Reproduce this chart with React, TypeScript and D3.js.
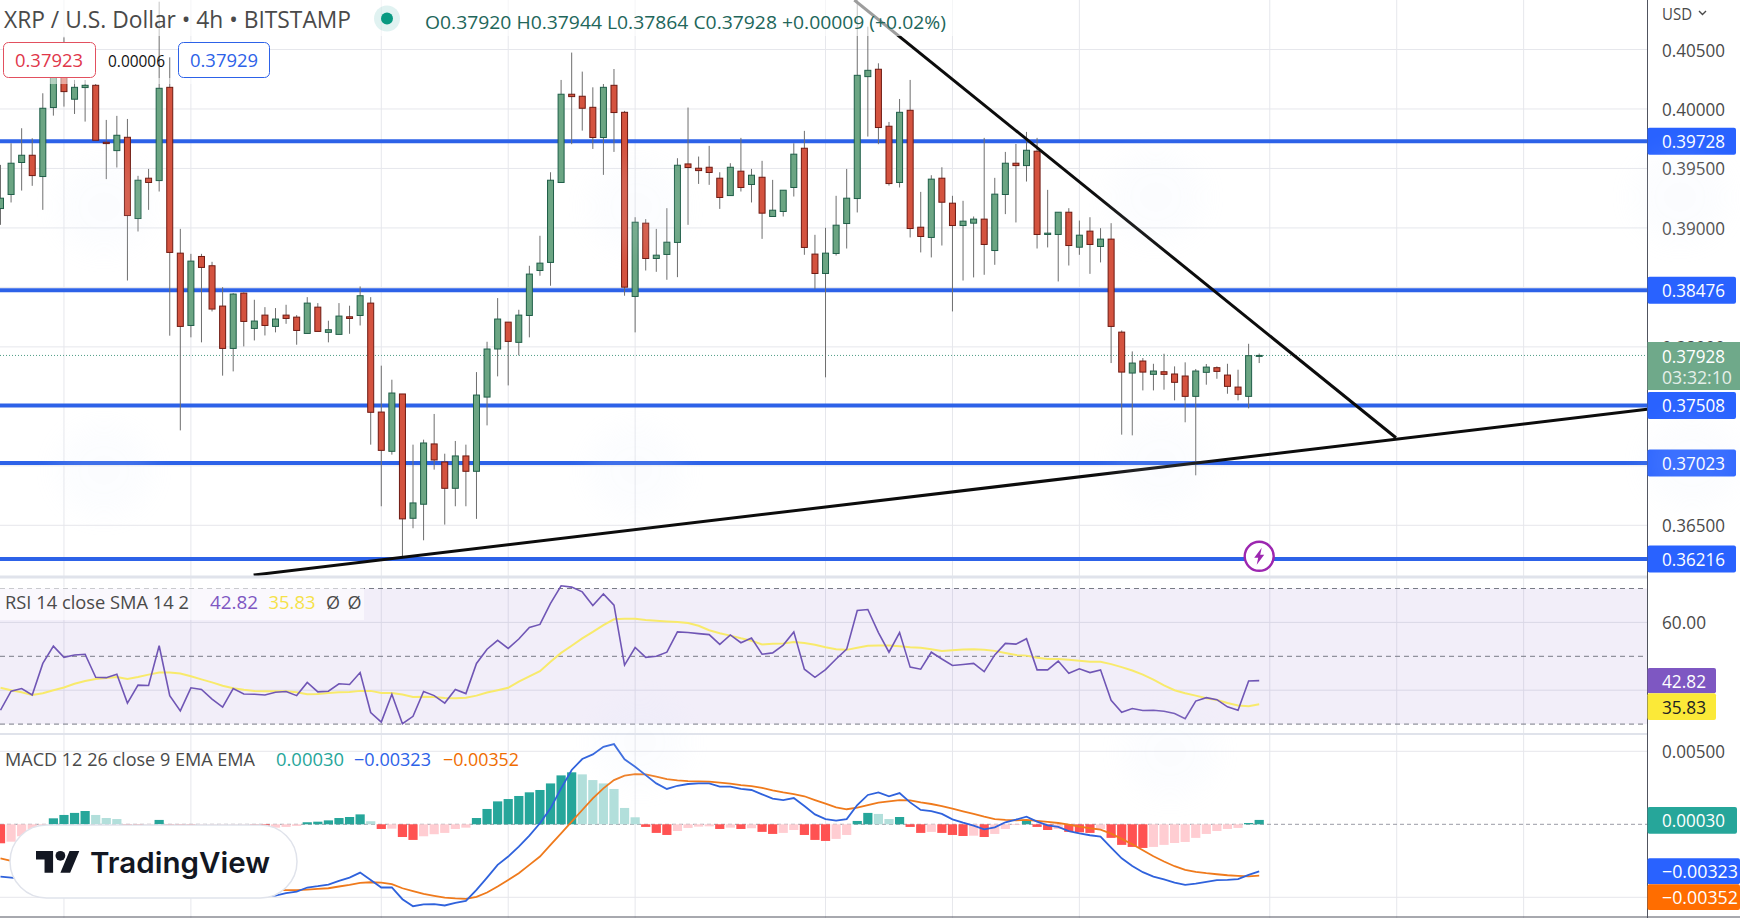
import * as d3 from "d3";

const WIDTH = 1740;
const HEIGHT = 918;
const AXIS_X = 1647.5;

const opens = [
  0.39163, 0.39281, 0.3955, 0.39611, 0.39432, 0.40012, 0.40278, 0.40082, 0.4018, 0.40199,
  0.3972, 0.3965, 0.39762, 0.39079, 0.39418, 0.39398, 0.40182, 0.38788, 0.3818, 0.3876,
  0.38682, 0.38343, 0.37987, 0.38452, 0.38155, 0.38267, 0.38172, 0.38267, 0.3825, 0.38113,
  0.38334, 0.38122, 0.38105, 0.38253, 0.38264, 0.38368, 0.37452, 0.37122, 0.37604, 0.36559,
  0.36677, 0.37184, 0.37032, 0.36811, 0.37083, 0.36954, 0.37578, 0.37982, 0.38208, 0.38038,
  0.38264, 0.38642, 0.3871, 0.39382, 0.40124, 0.40107, 0.40014, 0.3976, 0.40199, 0.39972,
  0.38424, 0.3904, 0.38743, 0.38777, 0.38878, 0.39538, 0.39502, 0.3951, 0.39418, 0.39272,
  0.39477, 0.39365, 0.39426, 0.39096, 0.39138, 0.3934, 0.3967, 0.3878, 0.38617, 0.38785,
  0.39037, 0.39247, 0.40272, 0.40334, 0.39855, 0.39382, 0.39989, 0.39006, 0.3892, 0.39418,
  0.39208, 0.3902, 0.3904, 0.39074, 0.3881, 0.39281, 0.39544, 0.39524, 0.39645, 0.38945,
  0.38945, 0.39132, 0.38838, 0.38973, 0.38844, 0.38906, 0.38124, 0.3778, 0.37881, 0.37769,
  0.37791, 0.37772, 0.37755, 0.37584, 0.37786, 0.37825, 0.37763, 0.37662, 0.37584, 0.3792,
];
const highs = [
  0.3953, 0.39712, 0.39838, 0.39754, 0.40132, 0.40384, 0.40602, 0.40244, 0.40244, 0.4021,
  0.39908, 0.39942, 0.39916, 0.39438, 0.39496, 0.40902, 0.40434, 0.38992, 0.38782, 0.38782,
  0.38715, 0.38502, 0.38452, 0.38458, 0.38396, 0.38334, 0.38326, 0.38354, 0.38267, 0.38418,
  0.38368, 0.3822, 0.38368, 0.38346, 0.38508, 0.38418, 0.37842, 0.37724, 0.37604, 0.37178,
  0.3722, 0.37436, 0.37102, 0.37209, 0.37178, 0.37788, 0.38043, 0.3841, 0.38208, 0.38312,
  0.38682, 0.38934, 0.39468, 0.40244, 0.40474, 0.40314, 0.40182, 0.4021, 0.40336, 0.39984,
  0.3909, 0.39074, 0.38992, 0.39166, 0.39586, 0.40012, 0.396, 0.3969, 0.39468, 0.39544,
  0.39757, 0.39496, 0.39564, 0.39404, 0.39317, 0.39712, 0.39816, 0.38942, 0.39001, 0.3927,
  0.39496, 0.40916, 0.40692, 0.40384, 0.39891, 0.40084, 0.40244, 0.39303, 0.39443, 0.3951,
  0.3927, 0.39228, 0.39096, 0.39757, 0.39421, 0.39639, 0.39706, 0.39807, 0.39757, 0.3932,
  0.39132, 0.39166, 0.39062, 0.3909, 0.38998, 0.3904, 0.38138, 0.37962, 0.37906, 0.37858,
  0.37942, 0.37836, 0.3787, 0.37814, 0.37856, 0.37836, 0.37858, 0.37808, 0.38026, 0.37944,
];
const lows = [
  0.39026, 0.39214, 0.39314, 0.39354, 0.39152, 0.39944, 0.4002, 0.39958, 0.39894, 0.39732,
  0.3941, 0.39508, 0.38558, 0.3897, 0.39152, 0.39306, 0.38094, 0.37298, 0.3808, 0.38038,
  0.38298, 0.37758, 0.37794, 0.38004, 0.38054, 0.38096, 0.38122, 0.38194, 0.38018, 0.38113,
  0.3813, 0.38038, 0.38105, 0.3811, 0.3818, 0.37178, 0.3666, 0.37094, 0.36226, 0.36475,
  0.36374, 0.36968, 0.36506, 0.3666, 0.3666, 0.36554, 0.3734, 0.37752, 0.37676, 0.37928,
  0.3808, 0.38598, 0.38514, 0.39382, 0.39704, 0.39818, 0.39664, 0.39446, 0.39639, 0.3843,
  0.38122, 0.38642, 0.38631, 0.38564, 0.38586, 0.39026, 0.3937, 0.39362, 0.3916, 0.39272,
  0.39306, 0.39214, 0.38908, 0.39096, 0.39096, 0.39264, 0.38774, 0.38486, 0.37744, 0.38768,
  0.38827, 0.3913, 0.39768, 0.39704, 0.39356, 0.3934, 0.3892, 0.38794, 0.38752, 0.38852,
  0.38298, 0.38558, 0.38584, 0.38606, 0.3869, 0.39116, 0.39046, 0.3939, 0.38827, 0.38836,
  0.3855, 0.38684, 0.38774, 0.38614, 0.3871, 0.37864, 0.37262, 0.37256, 0.37634, 0.37634,
  0.3764, 0.3755, 0.37366, 0.3692, 0.37682, 0.37732, 0.37606, 0.3755, 0.37483, 0.37864,
];
const closes = [
  0.3925, 0.39544, 0.39611, 0.3944, 0.40006, 0.40286, 0.40146, 0.40182, 0.40199, 0.39737,
  0.39709, 0.39779, 0.39104, 0.39401, 0.39382, 0.40174, 0.38794, 0.38172, 0.38721, 0.38668,
  0.38318, 0.37987, 0.38444, 0.38214, 0.38217, 0.3818, 0.38234, 0.38239, 0.38138, 0.38368,
  0.3813, 0.38144, 0.38259, 0.38239, 0.3843, 0.3745, 0.3713, 0.37612, 0.36554, 0.36688,
  0.37192, 0.37049, 0.36811, 0.37083, 0.36954, 0.37595, 0.37982, 0.38234, 0.38046, 0.38267,
  0.38612, 0.38704, 0.39401, 0.40124, 0.40104, 0.40006, 0.3976, 0.40182, 0.3997, 0.38502,
  0.39048, 0.38743, 0.38771, 0.3888, 0.39527, 0.39508, 0.39482, 0.39466, 0.39256, 0.3951,
  0.3934, 0.39443, 0.39124, 0.39149, 0.39317, 0.3962, 0.38836, 0.38617, 0.38788, 0.39023,
  0.3925, 0.40283, 0.40325, 0.39844, 0.39373, 0.39972, 0.38995, 0.38928, 0.3941, 0.39216,
  0.3902, 0.39057, 0.39074, 0.38861, 0.39284, 0.39544, 0.39524, 0.39653, 0.38945, 0.38956,
  0.39132, 0.38852, 0.38939, 0.38861, 0.38906, 0.38172, 0.37788, 0.37864, 0.37788, 0.37797,
  0.37769, 0.37702, 0.37584, 0.37797, 0.3783, 0.37794, 0.37668, 0.37601, 0.37926, 0.37928,
];

const rsi = [
  34.1, 39.7, 40.5, 38.6, 47.9, 53.0, 49.7, 50.4, 50.6, 43.8, 43.7, 44.7, 36.2, 41.5, 41.4,
  53.1, 38.4, 33.9, 40.7, 40.2, 37.4, 35.0, 40.5, 38.9, 38.8, 38.6, 39.4, 39.6, 38.4, 42.3,
  39.5, 39.7, 41.9, 41.7, 45.2, 33.4, 30.6, 38.8, 30.1, 32.3, 39.6, 38.4, 36.2, 40.2, 39.0,
  47.9, 52.1, 54.7, 52.3, 55.1, 58.5, 59.4, 65.6, 70.8, 70.4, 69.0, 65.0, 68.4, 65.1, 47.4,
  52.6, 49.7, 50.0, 51.2, 57.2, 57.0, 56.7, 56.4, 53.5, 56.3, 54.0, 55.4, 50.6, 51.0, 53.3,
  57.2, 46.2, 43.8, 46.1, 49.2, 52.1, 63.5, 63.8, 57.0, 51.2, 57.0, 46.8, 46.2, 51.2, 49.2,
  47.3, 47.6, 47.9, 45.5, 50.4, 53.8, 53.6, 55.2, 46.0, 46.0, 48.6, 45.0, 46.3, 45.2, 46.0,
  37.0, 33.5, 34.6, 34.0, 34.1, 33.8, 33.1, 31.6, 36.8, 37.8, 37.2, 35.1, 34.1, 42.7, 42.82,
];
const rsiSma = [
  40.7, 40.0, 39.4, 38.6, 39.1, 40.0, 40.8, 41.9, 42.7, 43.3, 43.6, 43.9, 43.3, 43.9, 44.6,
  45.2, 45.2, 44.9, 44.1, 43.2, 42.3, 41.3, 40.6, 40.1, 39.8, 39.7, 39.7, 39.7, 39.4, 38.8,
  38.9, 39.2, 39.4, 39.5, 39.8, 39.8, 39.2, 39.2, 38.7, 38.0, 38.1, 38.0, 37.7, 37.6, 37.8,
  38.4, 39.3, 40.0, 40.7, 42.5, 44.1, 45.6, 48.4, 51.0, 53.1, 55.3, 57.2, 59.2, 60.9, 61.1,
  61.1, 60.7, 60.5, 60.3, 60.1, 59.8, 59.0, 57.7, 56.8, 56.1, 55.3, 54.6, 53.5, 53.7, 53.8,
  54.2, 53.9, 53.4, 52.7, 52.1, 51.9, 52.5, 53.1, 53.2, 53.2, 53.0, 52.7, 52.5, 52.1, 51.6,
  51.8, 52.0, 52.1, 51.9, 51.6, 51.0, 50.4, 50.2, 49.6, 49.2, 49.2, 49.0, 48.7, 48.4, 48.4,
  47.7, 46.8, 45.8, 44.6, 43.1, 41.4, 40.0, 39.1, 38.4, 37.6, 37.1, 36.2, 35.5, 35.3, 35.83,
];

const macdHist = [
  -0.0013, -0.00119, -0.00082, -0.00034, -0.00007, 0.00041, 0.00064, 0.00078, 0.00091, 0.00064,
  0.00043, 0.00036, -0.00014, -0.00023, -0.00009, 0.0003, -0.00011, -0.00021, -0.00027, -0.00023,
  -0.00018, -0.00016, -0.00014, -0.00009, -0.00014, -0.00027, -0.00023, -0.00018, -0.00011, 0.00014,
  0.00018, 0.00027, 0.00043, 0.0005, 0.00068, 0.00021, -0.00032, -0.0003, -0.00087, -0.00107,
  -0.00082, -0.00068, -0.00059, -0.00032, -0.00023, 0.00043, 0.00105, 0.00157, 0.00173, 0.00194,
  0.00219, 0.00235, 0.0028, 0.00335, 0.00356, 0.00342, 0.00303, 0.0028, 0.00242, 0.00112,
  0.00048, -0.00018, -0.00059, -0.00073, -0.00046, -0.00025, -0.00016, -0.00014, -0.00032, -0.00023,
  -0.00032, -0.00027, -0.00052, -0.00066, -0.00059, -0.00039, -0.00073, -0.00107, -0.00114, -0.001,
  -0.00073, 0.00023, 0.00078, 0.00071, 0.00036, 0.0005, -0.00018, -0.00059, -0.00052, -0.00059,
  -0.00073, -0.0008, -0.00078, -0.00087, -0.00066, -0.00032, -0.00005, 0.00023, -0.00018, -0.00039,
  -0.00032, -0.00052, -0.00055, -0.00059, -0.00032, -0.00093, -0.00141, -0.00155, -0.00162, -0.00155,
  -0.00141, -0.00128, -0.00121, -0.00093, -0.00066, -0.00046, -0.00032, -0.00025, 0.00009, 0.0003,
];
const macdLine = [
  -0.00358, -0.00365, -0.00374, -0.00378, -0.00358, -0.00347, -0.00328, -0.00306, -0.00283, -0.00296,
  -0.00312, -0.00324, -0.00358, -0.00374, -0.00381, -0.00358, -0.00392, -0.00415, -0.00426, -0.00433,
  -0.00442, -0.00461, -0.00461, -0.00472, -0.00483, -0.00488, -0.00488, -0.00472, -0.00461, -0.00433,
  -0.00424, -0.00413, -0.00388, -0.00365, -0.00331, -0.00381, -0.00433, -0.00433, -0.00513, -0.00561,
  -0.00549, -0.00547, -0.00556, -0.00538, -0.00524, -0.00449, -0.00365, -0.00278, -0.00221, -0.00153,
  -0.00078, 0.00007, 0.00109, 0.00246, 0.00372, 0.00447, 0.00479, 0.00531, 0.00549, 0.00445,
  0.00394, 0.00337, 0.0028, 0.00242, 0.00264, 0.00276, 0.0028, 0.0028, 0.00258, 0.00258,
  0.00242, 0.00235, 0.00205, 0.00176, 0.00166, 0.0018, 0.00125, 0.00068, 0.00036, 0.00025,
  0.00036, 0.00132, 0.00201, 0.00219, 0.00192, 0.00214, 0.0015, 0.00098, 0.00091, 0.00071,
  0.00034, 0.00011, -0.00009, -0.00034, -0.00021, 0.00014, 0.00032, 0.00052, 0.00018, -0.00007,
  -0.00018, -0.00046, -0.00062, -0.00075, -0.00084, -0.0016, -0.00233, -0.00285, -0.00328, -0.00358,
  -0.00378, -0.00399, -0.00415, -0.00406, -0.00394, -0.00383, -0.00381, -0.00376, -0.00347, -0.00323,
];
const macdSignal = [
  -0.00233, -0.00251, -0.00269, -0.00283, -0.00296, -0.00306, -0.0031, -0.00312, -0.00312, -0.00312,
  -0.00315, -0.00319, -0.00324, -0.00331, -0.0034, -0.00351, -0.0036, -0.00374, -0.00388, -0.00404,
  -0.00415, -0.00426, -0.00433, -0.0044, -0.00447, -0.00451, -0.00451, -0.00451, -0.00451, -0.00447,
  -0.00442, -0.00438, -0.00426, -0.00415, -0.00401, -0.00397, -0.00399, -0.0041, -0.00438, -0.00458,
  -0.00477, -0.0049, -0.00502, -0.00508, -0.00511, -0.00497, -0.00467, -0.00426, -0.00381, -0.00335,
  -0.00278, -0.00221, -0.00141, -0.00062, 0.00018, 0.00098, 0.00178, 0.00246, 0.00303, 0.00333,
  0.00344, 0.00342, 0.00326, 0.0031, 0.00301, 0.00296, 0.00294, 0.00292, 0.00285, 0.00278,
  0.00269, 0.00262, 0.00249, 0.00233, 0.00219, 0.00207, 0.00192, 0.00166, 0.00141, 0.00116,
  0.00103, 0.00114, 0.00132, 0.00148, 0.00157, 0.00166, 0.00164, 0.0015, 0.00139, 0.00125,
  0.00107, 0.00089, 0.00071, 0.00052, 0.00036, 0.0003, 0.00027, 0.0003, 0.00023, 0.00016,
  0.00009, -0.00002, -0.00016, -0.00027, -0.00036, -0.00064, -0.001, -0.00137, -0.00178, -0.00219,
  -0.00255, -0.00287, -0.00312, -0.00326, -0.00335, -0.00342, -0.00349, -0.00353, -0.00356, -0.00352,
];

const priceTicks = [0.405, 0.4, 0.395, 0.39, 0.385, 0.38, 0.375, 0.37, 0.365];
const levels = [0.39728, 0.38476, 0.37508, 0.37023, 0.36216];
const gridBars = [6, 18, 36, 48, 60, 78, 90, 102, 120, 132, 144];
const rsiDashes = [70, 50, 30];
const rsiGrid = [60, 40];
const macdGrid = [0.005, -0.005];
// [bar, price] ends of the two trend lines
const fallingTrend: [number, number][] = [
  [80.72, 0.40916],
  [131.93, 0.37236],
];
const risingTrend: [number, number][] = [
  [23.93, 0.36082],
  [155.67, 0.37475],
];
// faint screenshot watermark blotches
const ghosts: [number, number][] = [
  [104, 207], [636, 207], [1156, 197], [1680, 197],
  [104, 470], [636, 470], [1161, 463], [1692, 463],
  [640, 742], [1170, 752],
];

const FONT = "'Open Sans', sans-serif";
const GRID = "#e6e7ec";
const BLUE = "#2d62e8";
const COLORS = {
  upBody: "#6ba583",
  upEdge: "#1f5e48",
  downBody: "#d4533f",
  downEdge: "#6f1a12",
  wick: "#6e6e6e",
  text: "#4a4a4a",
  rsi: "#7056b5",
  sma: "#f8ea6b",
  macd: "#2f62dc",
  signal: "#ef7a1c",
};

const x = d3.scaleLinear().domain([0, 119]).range([0.5, 1259.2]);
const yPrice = d3.scaleLinear().domain([0.405, 0.365]).range([49.5, 525.3]);
const yRsi = d3.scaleLinear().domain([60, 40]).range([622.4, 690.2]);
const yMacd = d3.scaleLinear().domain([0.005, -0.005]).range([751.3, 897.3]);

const fmt = d3.format(".5f");

function histColor(i: number) {
  const v = macdHist[i];
  const prev = i > 0 ? macdHist[i - 1] : 0;
  if (v >= 0) return v > prev ? "#26a69a" : "#b2dfdb";
  return v < prev ? "#ff5252" : "#ffcdd2";
}

function T({
  x: tx,
  y,
  size,
  fill,
  w,
  weight,
  font = FONT,
  children,
}: {
  x: number;
  y: number;
  size: number;
  fill: string;
  w?: number;
  weight?: number;
  font?: string;
  children: React.ReactNode;
}) {
  return (
    <text
      x={tx}
      y={y}
      fontSize={size}
      fill={fill}
      fontWeight={weight}
      fontFamily={font}
      dominantBaseline="central"
      textLength={w}
      lengthAdjust={w ? "spacingAndGlyphs" : undefined}
    >
      {children}
    </text>
  );
}

function tagWidth(text: string) {
  if (text.length === 5) return 44;
  return text.length === 7 ? 63 : 76;
}

function AxisTag({
  y0,
  y1,
  right,
  fill,
  text,
  textFill = "#fff",
}: {
  y0: number;
  y1: number;
  right: number;
  fill: string;
  text: string;
  textFill?: string;
}) {
  return (
    <g>
      <rect x={AXIS_X} y={y0} width={right - AXIS_X} height={y1 - y0} rx={2} fill={fill} />
      <T x={1662} y={(y0 + y1) / 2} size={18} fill={textFill} w={tagWidth(text)}>
        {text}
      </T>
    </g>
  );
}

export default function App() {
  const trend = d3
    .line<[number, number]>()
    .x((d) => x(d[0]))
    .y((d) => yPrice(d[1]));
  const rsiPath = d3
    .line<number>()
    .x((_, i) => x(i))
    .y((d) => yRsi(d));
  const macdPath = d3
    .line<number>()
    .x((_, i) => x(i))
    .y((d) => yMacd(d));

  return (
    <svg
      width={WIDTH}
      height={HEIGHT}
      style={{ position: "fixed", left: 0, top: 0, background: "#fff" }}
    >
      <defs>
        <filter id="soft" x="-50%" y="-50%" width="200%" height="200%">
          <feGaussianBlur stdDeviation={12} />
        </filter>
      </defs>

      {/* grid */}
      {gridBars.map((b) => (
        <line key={b} x1={x(b)} x2={x(b)} y1={0} y2={HEIGHT} stroke={GRID} strokeWidth={1} />
      ))}
      {priceTicks.map((p) => (
        <line key={p} x1={0} x2={AXIS_X} y1={yPrice(p)} y2={yPrice(p)} stroke={GRID} />
      ))}

      {/* support / resistance levels */}
      {levels.map((p) => (
        <line key={p} x1={0} x2={AXIS_X} y1={yPrice(p)} y2={yPrice(p)} stroke={BLUE} strokeWidth={4} />
      ))}
      <line
        x1={0}
        x2={AXIS_X}
        y1={yPrice(closes[119])}
        y2={yPrice(closes[119])}
        stroke="#4f9d85"
        strokeDasharray="1 2"
      />

      {/* candles */}
      <g>
        {closes.map((c, i) => (
          <line key={i} x1={x(i)} x2={x(i)} y1={yPrice(highs[i])} y2={yPrice(lows[i])} stroke={COLORS.wick} />
        ))}
        {closes.map((c, i) => {
          const up = c >= opens[i];
          const top = yPrice(Math.max(c, opens[i]));
          const bottom = yPrice(Math.min(c, opens[i]));
          return (
            <rect
              key={i}
              x={x(i) - 3}
              y={top}
              width={6}
              height={Math.max(bottom - top, 0.5)}
              fill={up ? COLORS.upBody : COLORS.downBody}
              stroke={up ? COLORS.upEdge : COLORS.downEdge}
            />
          );
        })}
      </g>

      <path d={trend(fallingTrend) ?? undefined} stroke="#0c0c0c" strokeWidth={3} fill="none" />
      <path d={trend(risingTrend) ?? undefined} stroke="#0c0c0c" strokeWidth={3} fill="none" />

      {/* header */}
      <rect x={0} y={0} width={960} height={36} fill="#fff" opacity={0.6} />
      <rect x={0} y={78} width={272} height={6} fill="#fff" opacity={0.5} />
      <T x={4} y={19} size={23} fill={COLORS.text} w={347}>
        XRP / U.S. Dollar • 4h • BITSTAMP
      </T>
      <circle cx={387} cy={18.5} r={13} fill="#26a69a" opacity={0.14} />
      <circle cx={387} cy={18.5} r={6} fill="#089981" />
      <T x={425} y={21} size={18.5} fill="#22665a" w={521}>
        O0.37920 H0.37944 L0.37864 C0.37928 +0.00009 (+0.02%)
      </T>
      <rect x={3.5} y={42.5} width={92} height={35} rx={5} fill="#fff" stroke="#e2505f" />
      <T x={15} y={60} size={19} fill="#e0364a" w={68}>
        0.37923
      </T>
      <T x={108} y={60} size={17} fill="#111" w={57}>
        0.00006
      </T>
      <rect x={178.5} y={42.5} width={91} height={35} rx={5} fill="#fff" stroke="#2d62e8" />
      <T x={190} y={60} size={19} fill="#2d62e8" w={68}>
        0.37929
      </T>

      {/* RSI pane */}
      <line x1={0} x2={WIDTH} y1={577} y2={577} stroke="#e0e3eb" strokeWidth={3} />
      <rect
        x={0}
        y={yRsi(70)}
        width={AXIS_X}
        height={yRsi(30) - yRsi(70)}
        fill="#7e57c2"
        opacity={0.1}
      />
      {rsiGrid.map((v) => (
        <line key={v} x1={0} x2={AXIS_X} y1={yRsi(v)} y2={yRsi(v)} stroke="#d9d7e6" />
      ))}
      {rsiDashes.map((v) => (
        <line key={v} x1={0} x2={AXIS_X} y1={yRsi(v)} y2={yRsi(v)} stroke="#787b86" strokeDasharray="5 4" />
      ))}
      <path d={rsiPath(rsiSma) ?? undefined} fill="none" stroke={COLORS.sma} strokeWidth={2} />
      <path d={rsiPath(rsi) ?? undefined} fill="none" stroke={COLORS.rsi} strokeWidth={1.6} />
      <rect x={0} y={587} width={364} height={33} fill="#fff" opacity={0.6} />
      <T x={5} y={602} size={18} fill={COLORS.text} w={184}>
        RSI 14 close SMA 14 2
      </T>
      <T x={210} y={602} size={18} fill="#7e57c2" w={48}>
        42.82
      </T>
      <T x={268.5} y={602} size={18} fill="#f5e24a" w={47}>
        35.83
      </T>
      <T x={326} y={602} size={18} fill={COLORS.text}>
        Ø
      </T>
      <T x={347.5} y={602} size={18} fill={COLORS.text}>
        Ø
      </T>

      {/* MACD pane */}
      <line x1={0} x2={WIDTH} y1={734} y2={734} stroke="#e0e3eb" strokeWidth={2} />
      {macdGrid.map((v) => (
        <line key={v} x1={0} x2={AXIS_X} y1={yMacd(v)} y2={yMacd(v)} stroke={GRID} />
      ))}
      <line x1={0} x2={AXIS_X} y1={yMacd(0)} y2={yMacd(0)} stroke="#9a9ca6" strokeDasharray="4 3" />
      {macdHist.map((v, i) => (
        <rect
          key={i}
          x={x(i) - 4.6}
          y={Math.min(yMacd(v), yMacd(0))}
          width={9.2}
          height={Math.abs(yMacd(v) - yMacd(0))}
          fill={histColor(i)}
        />
      ))}
      <path d={macdPath(macdSignal) ?? undefined} fill="none" stroke={COLORS.signal} strokeWidth={1.8} />
      <path d={macdPath(macdLine) ?? undefined} fill="none" stroke={COLORS.macd} strokeWidth={1.8} />
      <T x={5} y={759} size={18} fill={COLORS.text} w={250}>
        MACD 12 26 close 9 EMA EMA
      </T>
      <T x={276} y={759} size={18} fill="#26a69a" w={68}>
        0.00030
      </T>
      <T x={354} y={759} size={18} fill="#2d62e8" w={77}>
        −0.00323
      </T>
      <T x={443} y={759} size={18} fill="#ef6c00" w={76}>
        −0.00352
      </T>

      {/* TradingView badge */}
      <rect x={10} y={825} width={287} height={73} rx={36.5} fill="#fff" stroke="#e0e3eb" strokeWidth={1.5} />
      <g transform="translate(36 846) scale(1.22)" fill="#131722">
        <path d="M14 22H7V11H0V4h14v18zM28 22h-8l7.5-18h8L28 22z" />
        <circle cx={20} cy={8} r={4} />
      </g>
      <T x={90} y={862} size={29} fill="#131722" w={180} weight={600} font="Inter, sans-serif">
        TradingView
      </T>

      {/* price scale */}
      <rect x={AXIS_X} y={0} width={WIDTH - AXIS_X} height={HEIGHT} fill="#fff" />
      <line x1={AXIS_X} x2={AXIS_X} y1={0} y2={HEIGHT} stroke="#50535e" />
      <line x1={0} x2={WIDTH} y1={917} y2={917} stroke="#50535e" />
      <T x={1662} y={13} size={17} fill={COLORS.text} w={30}>
        USD
      </T>
      <path d="M1699 11l3.5 3.5 3.5-3.5" fill="none" stroke={COLORS.text} strokeWidth={1.4} />
      {priceTicks.map((p) => (
        <T key={p} x={1662} y={yPrice(p)} size={18} fill={COLORS.text} w={63}>
          {fmt(p)}
        </T>
      ))}
      {levels.map((p) => (
        <AxisTag
          key={p}
          y0={yPrice(p) - 13.5}
          y1={yPrice(p) + 13.5}
          right={1736}
          fill="#2962ff"
          text={fmt(p)}
        />
      ))}
      <rect x={AXIS_X} y={342} width={WIDTH - AXIS_X} height={48} fill="#6fa98a" />
      <T x={1662} y={355.5} size={18} fill="#fff" w={63}>
        {fmt(closes[119])}
      </T>
      <T x={1662} y={377} size={18} fill="#e4efe9" w={70}>
        03:32:10
      </T>
      <T x={1662} y={622} size={18} fill={COLORS.text} w={44}>
        60.00
      </T>
      <T x={1662} y={751} size={18} fill={COLORS.text} w={63}>
        0.00500
      </T>
      <AxisTag y0={668} y1={693.3} right={1716} fill="#7e57c2" text="42.82" />
      <AxisTag y0={693.3} y1={720} right={1716} fill="#fbe938" text="35.83" textFill="#222" />
      <AxisTag y0={807} y1={833.7} right={1737} fill="#26a69a" text="0.00030" />
      <AxisTag y0={858.3} y1={884.3} right={1740} fill="#2962ff" text="−0.00323" />
      <AxisTag y0={884.3} y1={910} right={1740} fill="#ff6d00" text="−0.00352" />

      {/* alert badge */}
      <circle cx={x(119)} cy={556.3} r={14.5} fill="#fff" stroke="#9c27b0" strokeWidth={2.4} />
      <path
        transform={`translate(${x(119)} 556.3)`}
        d="M2.5-8.5L-5 1.5h4L-2.5 8.5 5-1.5h-4z"
        fill="#9c27b0"
      />

      <g filter="url(#soft)" opacity={0.1}>
        {ghosts.map(([gx, gy]) => (
          <ellipse key={gx + "-" + gy} cx={gx} cy={gy} rx={48} ry={46} fill="#dfe9fa" />
        ))}
      </g>
    </svg>
  );
}
